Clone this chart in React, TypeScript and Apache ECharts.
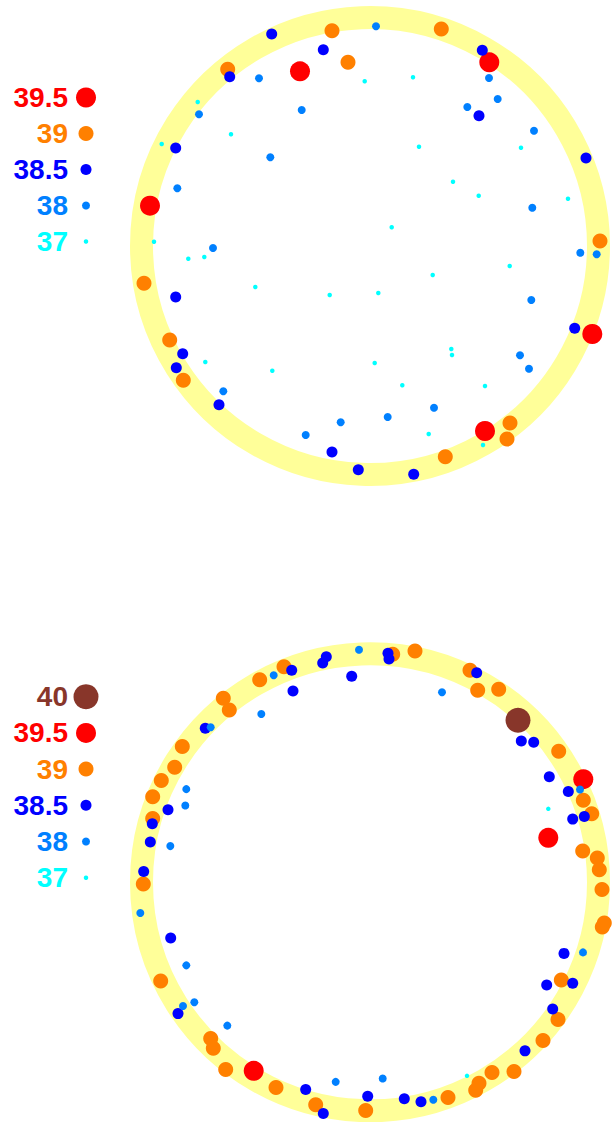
import React, { useEffect, useRef } from "react";
import * as echarts from "echarts";

// Legend categories (temperature classes)
const topCategories = ["39.5", "39", "38.5", "38", "37"];
const bottomCategories = ["40", "39.5", "39", "38.5", "38", "37"];
const classColors: Record<string, string> = {
  "40": "#88362a",
  "39.5": "#ff0000",
  "39": "#ff8000",
  "38.5": "#0000ff",
  "38": "#0080ff",
  "37": "#00ffff",
};
const classSizes: Record<string, number> = {
  "40": 25,
  "39.5": 20,
  "39": 15,
  "38.5": 11,
  "38": 8,
  "37": 4.5,
};

// Top chart points, read as [x, y] (picture x, picture y)
const top395 = [[300, 71.3], [489.3, 62.3], [150, 205.7], [592.3, 334], [485, 431]];
const top39 = [[332, 30.7], [348, 62.3], [227.7, 69.3], [441.3, 29], [600, 241], [144, 283.3], [169.7, 340], [183.3, 380.3], [510, 423], [507, 439], [445.3, 456.7]];
const top385 = [[271.7, 34], [323.3, 49.7], [229.7, 76.7], [175.7, 148], [482.3, 50.3], [479, 115.7], [586, 158], [175.7, 297], [182.7, 353.7], [176.3, 367.7], [219, 404.7], [332, 452], [358.3, 469.7], [574.7, 328.3], [413.7, 474.3]];
const top38 = [[259, 78.3], [199, 114.3], [301.7, 110], [270.3, 157.3], [177.3, 188.3], [213, 248], [376, 26.3], [489, 78], [497.7, 99], [467.3, 107], [534, 130.7], [532.3, 207.7], [580.3, 252.7], [596.7, 254.3], [531.3, 300], [223.3, 391.3], [340.7, 422.3], [305.7, 435], [520, 355.3], [529, 368.7], [434, 407.7], [387.7, 417]];
const top37 = [[364.7, 81.3], [197.7, 102], [231, 134.3], [161.7, 144], [154, 241.7], [413, 77.3], [419, 146.7], [521, 147.7], [453, 181.7], [478.7, 195.7], [568, 198.7], [391.7, 227.3], [188.3, 258.7], [204.3, 257], [255.3, 287], [329.7, 295], [205.3, 362], [272.3, 370.7], [509.7, 266], [432.7, 275], [378.3, 293], [451.3, 349], [452, 355], [374.7, 363], [402.3, 385.3], [485, 386], [428.7, 434], [483, 445]];

// Bottom chart points
const bot40 = [[518, 720.3]];
const bot395 = [[583.3, 779.3], [548.3, 838], [253.7, 1071.3]];
const bot39 = [[284, 666.7], [259.7, 679.7], [223.3, 698.3], [229.3, 710], [182.3, 746.7], [174.7, 767.3], [161.3, 780.7], [152.7, 797], [152.7, 818.7], [143.3, 884.3], [392.7, 654.3], [415, 651], [470, 670.3], [477.7, 690.3], [498.7, 689.3], [558.7, 751.3], [583.3, 800.3], [591.7, 814], [582.7, 851.3], [597.3, 858.3], [599.3, 870], [160.7, 981.3], [210.7, 1039], [213.3, 1048.7], [225.7, 1070], [276, 1088], [315.7, 1105.3], [365.7, 1111], [602, 889.7], [604.3, 923.3], [602.3, 927.3], [561.3, 980.3], [558, 1020], [543, 1041], [514, 1072], [492, 1073], [479, 1083.7], [475.7, 1090.7], [448, 1098]];
const bot385 = [[326.3, 656.7], [322.7, 663], [351.7, 676.3], [291.7, 670.3], [293, 691], [205.3, 728.3], [168, 810], [152.3, 824], [150.3, 842.3], [143.7, 871.7], [388, 653.3], [389, 659], [476.7, 672.7], [521.3, 741], [533.7, 742.3], [549.3, 777], [568.3, 791.7], [572.7, 819.3], [584.3, 816.7], [170.7, 938.3], [178, 1014], [305.7, 1090], [323.3, 1114], [367.7, 1096.7], [564, 953.7], [546.7, 985.3], [572.7, 983.7], [552.7, 1009.3], [525, 1051.3], [404.3, 1099.3], [421, 1102.3]];
const bot38 = [[359, 649.7], [273.7, 675.3], [261.3, 714], [210.7, 727.3], [186.3, 789.3], [185.3, 805.7], [170.3, 846.3], [442, 692.3], [580, 789.7], [140.3, 913.3], [186.3, 965.7], [183, 1006.3], [194.3, 1002.7], [227.3, 1026], [335.7, 1082.3], [583, 952.7], [382.7, 1079], [433.3, 1100.3]];
const bot37 = [[548.3, 809], [467, 1076.3]];

const TOP_CENTER = [370, 246];
const BOT_CENTER = [370, 882.5];

function rel(points: number[][], c: number[]) {
  return points.map(([x, y]) => [x - c[0], c[1] - y]);
}

export default function App() {
  const ref = useRef<HTMLDivElement>(null);
  useEffect(() => {
    document.body.style.margin = "0";
    const chart = echarts.init(ref.current!, undefined, { renderer: "svg" });

    const mkSeries = (name: string, pts: number[][], c: number[], idx: number) => ({
      type: "scatter",
      name,
      xAxisIndex: idx,
      yAxisIndex: idx,
      symbol: "circle",
      symbolSize: classSizes[name],
      itemStyle: { color: classColors[name], opacity: 1 },
      data: rel(pts, c),
      silent: true,
      clip: false,
      z: 3,
    });

    const ring = (idx: number) => ({
      type: "scatter",
      xAxisIndex: idx,
      yAxisIndex: idx,
      symbol: "circle",
      symbolSize: 457,
      data: [[0, 0]],
      itemStyle: { color: "none", borderColor: "#ffff99", borderWidth: 23, opacity: 1 },
      silent: true,
      clip: false,
      z: 1,
    });

    const legendSeries = (cats: string[], idx: number) => ({
      type: "scatter",
      xAxisIndex: idx,
      yAxisIndex: idx,
      symbol: "circle",
      itemStyle: { opacity: 1 },
      data: cats.map((c) => ({
        value: [0, c],
        symbolSize: classSizes[c],
        itemStyle: { color: classColors[c], opacity: 1 },
      })),
      silent: true,
      clip: false,
    });

    const hiddenValueAxis = (gridIndex: number, min: number, max: number) => ({
      type: "value",
      gridIndex,
      min,
      max,
      show: false,
    });

    const legendYAxis = (gridIndex: number, cats: string[]) => ({
      type: "category",
      gridIndex,
      data: cats,
      inverse: true,
      boundaryGap: true,
      axisLine: { show: false },
      axisTick: { show: false },
      splitLine: { show: false },
      axisLabel: {
        interval: 0,
        hideOverlap: false,
        margin: 8,
        fontFamily: "Liberation Sans",
        fontSize: 28,
        fontWeight: "bold",
        padding: [0, 0, 8, 0],
        color: (v: string) => classColors[v],
      },
    });

    const option = {
      animation: false,
      backgroundColor: "#ffffff",
      grid: [
        { left: 130, top: 6, width: 480, height: 480 },
        { left: 130, top: 642.5, width: 480, height: 480 },
        { left: 76, top: 79.5, width: 20, height: 180 },
        { left: 76, top: 678.6, width: 20, height: 217.2 },
      ],
      xAxis: [
        hiddenValueAxis(0, -240, 240),
        hiddenValueAxis(1, -240, 240),
        hiddenValueAxis(2, -1, 1),
        hiddenValueAxis(3, -1, 1),
      ],
      yAxis: [
        hiddenValueAxis(0, -240, 240),
        hiddenValueAxis(1, -240, 240),
        legendYAxis(2, topCategories),
        legendYAxis(3, bottomCategories),
      ],
      series: [
        ring(0),
        mkSeries("39.5", top395, TOP_CENTER, 0),
        mkSeries("39", top39, TOP_CENTER, 0),
        mkSeries("38.5", top385, TOP_CENTER, 0),
        mkSeries("38", top38, TOP_CENTER, 0),
        mkSeries("37", top37, TOP_CENTER, 0),
        ring(1),
        mkSeries("40", bot40, BOT_CENTER, 1),
        mkSeries("39.5", bot395, BOT_CENTER, 1),
        mkSeries("39", bot39, BOT_CENTER, 1),
        mkSeries("38.5", bot385, BOT_CENTER, 1),
        mkSeries("38", bot38, BOT_CENTER, 1),
        mkSeries("37", bot37, BOT_CENTER, 1),
        legendSeries(topCategories, 2),
        legendSeries(bottomCategories, 3),
      ],
    };
    chart.setOption(option as any);
    return () => chart.dispose();
  }, []);
  return (
    <div
      ref={ref}
      style={{ position: "fixed", left: 0, top: 0, width: 614, height: 1122, background: "#fff" }}
    />
  );
}
